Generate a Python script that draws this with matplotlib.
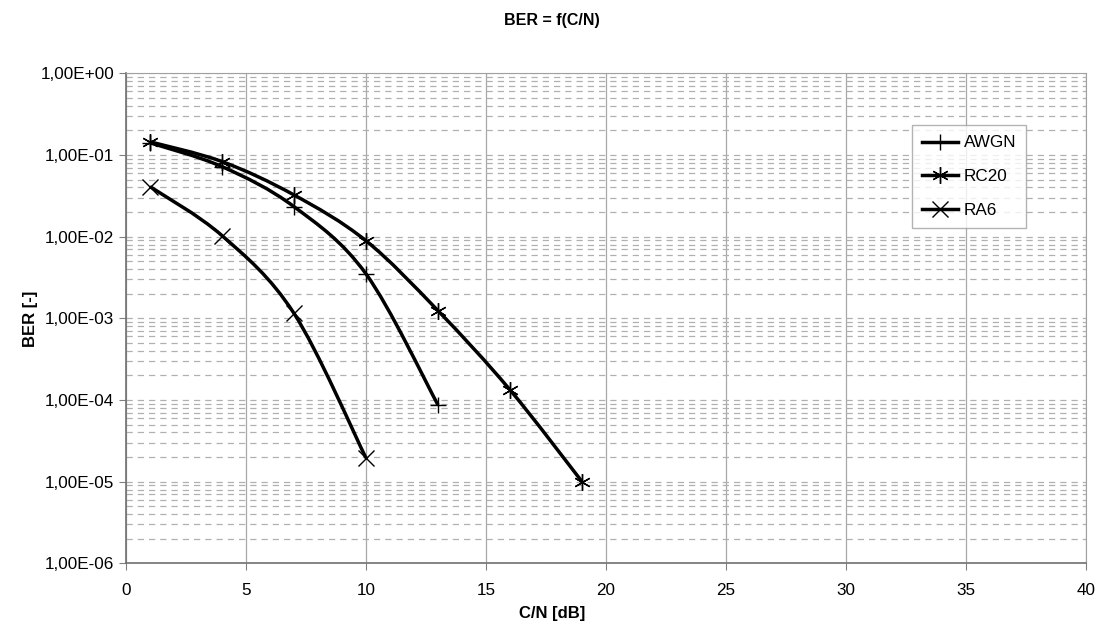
import numpy as np
import matplotlib
matplotlib.use("Agg")
import matplotlib.pyplot as plt
from matplotlib.path import Path
from matplotlib.patches import PathPatch
from matplotlib.lines import Line2D
from matplotlib.ticker import FixedLocator, LogLocator, NullFormatter

plt.rcParams['font.family'] = ['Liberation Sans', 'DejaVu Sans']

# data
awgn_x = [1, 4, 7, 10, 13]
awgn_y = [0.141, 0.072, 0.0233, 0.0035, 8.7e-5]
rc20_x = [1, 4, 7, 10, 13, 16, 19]
rc20_y = [0.145, 0.083, 0.0324, 0.0089, 0.00124, 1.33e-4, 1.0e-5]
ra6_x = [1, 4, 7, 10]
ra6_y = [0.041, 0.0103, 0.00115, 1.95e-5]

series_names = ["AWGN", "RC20", "RA6"]
series_marks = ["+", (6, 2, 0), "x"]  # plus, asterisk, cross
y_ticks = [1e0, 1e-1, 1e-2, 1e-3, 1e-4, 1e-5, 1e-6]
y_labels = ["1,00E+00", "1,00E-01", "1,00E-02", "1,00E-03",
            "1,00E-04", "1,00E-05", "1,00E-06"]


def smooth_path(xs, ys):
    # Excel-like smoothed line: cubic bezier through the points (log y)
    px = np.array(xs, float)
    py = np.log10(np.array(ys, float))
    verts = [(px[0], py[0])]
    codes = [Path.MOVETO]
    n = len(px)
    for i in range(n - 1):
        p0 = i - 1 if i > 0 else i
        p3 = i + 2 if i + 2 < n else i + 1
        c1 = (px[i] + (px[i + 1] - px[p0]) / 6, py[i] + (py[i + 1] - py[p0]) / 6)
        c2 = (px[i + 1] - (px[p3] - px[i]) / 6, py[i + 1] - (py[p3] - py[i]) / 6)
        verts += [c1, c2, (px[i + 1], py[i + 1])]
        codes += [Path.CURVE4] * 3
    verts = [(vx, 10 ** vy) for vx, vy in verts]
    return Path(verts, codes)


fig = plt.figure(figsize=(11.04, 6.34), dpi=100)
ax = fig.add_axes([0.1141, 0.1115, 0.8696, 0.7729])

all_series = [(awgn_x, awgn_y), (rc20_x, rc20_y), (ra6_x, ra6_y)]
handles = []
for (xs, ys), name, mk in zip(all_series, series_names, series_marks):
    ax.add_patch(PathPatch(smooth_path(xs, ys), facecolor="none",
                           edgecolor="black", lw=2.5, zorder=3))
    ax.plot(xs, ys, linestyle="none", marker=mk, color="black",
            markersize=12, markeredgewidth=1.0, zorder=4)
    handles.append(Line2D([], [], color="black", lw=2.5, marker=mk,
                          markersize=12, markeredgewidth=1.0, label=name))

ax.set_yscale("log")
ax.set_xlim(0, 40)
ax.set_ylim(1e-6, 1)
ax.set_xticks(range(0, 41, 5))
ax.yaxis.set_major_locator(FixedLocator(y_ticks))
ax.set_yticklabels(y_labels)
ax.yaxis.set_minor_locator(LogLocator(base=10, subs=np.arange(2, 10)))
ax.yaxis.set_minor_formatter(NullFormatter())
ax.tick_params(axis="y", which="minor", length=0)
ax.tick_params(axis="both", which="major", labelsize=12.3, length=5,
               color="#808080")
ax.tick_params(axis="x", pad=9)

ax.grid(True, axis="x", which="major", color="#a8a8a8", lw=0.9)
ax.grid(True, axis="y", which="both", color="#b0b0b0", lw=0.9,
        linestyle=(0, (5, 4)))
ax.set_axisbelow(True)
for s in ["top", "right"]:
    ax.spines[s].set_color("#a0a0a0")
for s in ["left", "bottom"]:
    ax.spines[s].set_color("#707070")
    ax.spines[s].set_linewidth(1.2)

leg = ax.legend(handles=handles, loc="upper left",
                bbox_to_anchor=(0.819, 0.894), fontsize=12.3, frameon=True,
                fancybox=False, edgecolor="#a0a0a0", handlelength=2.1,
                handletextpad=0.3, labelspacing=1.1, borderpad=0.6,
                borderaxespad=0)
leg.get_frame().set_linewidth(1.0)

fig.text(0.5, 0.968, "BER = f(C/N)", ha="center", va="center",
         fontsize=11.5, fontweight="bold")
fig.text(0.5, 0.032, "C/N [dB]", ha="center", va="center",
         fontsize=12, fontweight="bold")
fig.text(0.028, 0.497, "BER [-]", ha="center", va="center", rotation=90,
         fontsize=12, fontweight="bold")

fig.savefig("out.png", dpi=100)
